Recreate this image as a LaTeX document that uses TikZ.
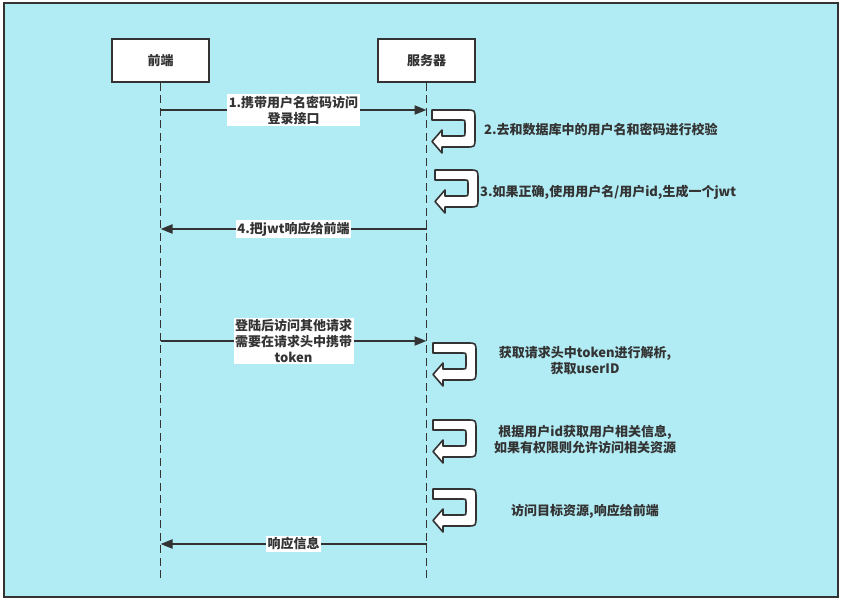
\documentclass[tikz,border=0pt]{standalone}
\usepackage{fontspec}
\setmainfont{Noto Sans CJK SC}
\usetikzlibrary{arrows.meta}
\definecolor{bgcyan}{RGB}{177,235,243}
\definecolor{ink}{RGB}{51,51,51}
\tikzset{
  every node/.style={font=\fontsize{13}{16}\selectfont\bfseries, text=ink},
  actor/.style={draw=ink, line width=1.8pt, fill=white, minimum width=97pt, minimum height=43pt, inner sep=0pt},
  life/.style={draw=ink, line width=1.9pt, dash pattern=on 8pt off 4.5pt},
  msg/.style={draw=ink, line width=1.9pt, -{Triangle[length=12pt,width=9pt]}},
  lbl/.style={fill=white, inner sep=1.5pt, align=center},
  note/.style={align=center, inner sep=0pt},
  uturn/.pic={
    \draw[draw=ink, line width=1.6pt, fill=white, line join=round]
      (0,0) -- (34,0) .. controls (43,0) and (43,0) .. (43,9) -- (43,28)
      .. controls (43,37) and (43,37) .. (34,37) -- (10,37) -- (10,43)
      -- (0,31.5) -- (10,20) -- (10,26) -- (30,26) .. controls (33,26) .. (33,23)
      -- (33,13) .. controls (33,10) .. (30,10) -- (0,10) -- cycle;
  }
}
\begin{document}
\begin{tikzpicture}[x=1pt,y=-1pt]
\useasboundingbox (0,0) rectangle (842,601);
\fill[white] (0,0) rectangle (842,601);
\draw[draw=ink, line width=2pt, fill=bgcyan] (4,3) rectangle (838,597);

\node[actor] (fe) at (160.5,60.5) {前端};
\node[actor] (sv) at (426.5,60.5) {服务器};
\coordinate (feEnd) at (fe.south |- 0,581);
\coordinate (svEnd) at (sv.south |- 0,581);
\draw[life] (fe.south) -- (feEnd);
\draw[life] (sv.south) -- (svEnd);

% messages
\coordinate (m1s) at (fe.south |- 0,110);
\coordinate (m1e) at (sv.south |- 0,110);
\draw[msg] (m1s) -- (m1e) node[midway, lbl] (l1) {1.携带用户名密码访问\\登录接口};

\coordinate (m4s) at (sv.south |- 0,229);
\coordinate (m4e) at (fe.south |- 0,229);
\draw[msg] (m4s) -- (m4e) node[midway, lbl] (l4) {4.把jwt响应给前端};

\coordinate (m5s) at (fe.south |- 0,341);
\coordinate (m5e) at (sv.south |- 0,341);
\draw[msg] (m5s) -- (m5e) node[midway, lbl] (l5) {登陆后访问其他请求\\需要在请求头中携带\\token};

\coordinate (m6s) at (sv.south |- 0,544);
\coordinate (m6e) at (fe.south |- 0,544);
\draw[msg] (m6s) -- (m6e) node[midway, lbl] (l6) {响应信息};

% self processing
\pic at (432,110) {uturn};
\pic at (435,170) {uturn};
\pic at (433,343) {uturn};
\pic at (433,420) {uturn};
\pic at (433,489) {uturn};

\node[note, anchor=west] (n2) at (484,130) {2.去和数据库中的用户名和密码进行校验};
\node[note, anchor=west] (n3) at (480,192) {3.如果正确,使用用户名/用户id,生成一个jwt};
\node[note] (na) at (585,360.5) {获取请求头中token进行解析,\\获取userID};
\node[note] (nb) at (585,440) {根据用户id获取用户相关信息,\\如果有权限则允许访问相关资源};
\node[note] (nc) at (585,511) {访问目标资源,响应给前端};
\end{tikzpicture}
\end{document}
